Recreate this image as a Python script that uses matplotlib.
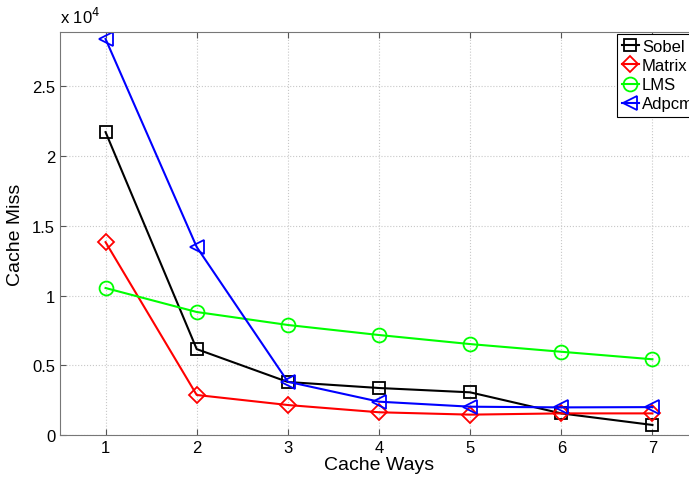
import numpy as np
import matplotlib
matplotlib.use("Agg")
import matplotlib.pyplot as plt
from matplotlib.ticker import FormatStrFormatter

plt.rcParams['font.family'] = ['Liberation Sans', 'DejaVu Sans']

ways = [1, 2, 3, 4, 5, 6, 7]
sobel = [21720, 6160, 3800, 3370, 3060, 1550, 720]
matrix = [13830, 2870, 2150, 1630, 1460, 1550, 1550]
lms = [10540, 8820, 7890, 7170, 6520, 5970, 5430]
adpcm = [28400, 13480, 3820, 2390, 2030, 1980, 2000]

series = [
    ("Sobel", sobel, "black", "s", 9),
    ("Matrix", matrix, "red", "D", 8),
    ("LMS", lms, "#00ff00", "o", 10),
    ("Adpcm", adpcm, "blue", "<", 10),
]

fig = plt.figure(figsize=(6.89, 4.81), dpi=100)
ax = fig.add_axes([60 / 689, 45 / 481, 638 / 689, 403 / 481])

for name, vals, color, marker, ms in series:
    ax.plot(ways, np.array(vals) / 1e4, color=color, marker=marker,
            markersize=ms, markerfacecolor="none", markeredgewidth=1.3,
            linewidth=1.5, label=name)

ax.set_xlim(0.5, 7.5)
ax.set_ylim(0, 2.89)
ax.set_xticks(ways)
ax.set_yticks([0, 0.5, 1, 1.5, 2, 2.5])
ax.yaxis.set_major_formatter(FormatStrFormatter("%g"))
ax.tick_params(direction="in", top=True, right=True, labelsize=12, length=4,
               color="#555555")
for s in ax.spines.values():
    s.set_color("#777777")
ax.grid(True, linestyle=":", color="#c8c8c8", linewidth=0.8)

ax.set_xlabel("Cache Ways", fontsize=14, labelpad=1)
ax.set_ylabel("Cache Miss", fontsize=14, labelpad=6)
fig.text(60 / 689, 1 - 27 / 481, "x 10$^4$", fontsize=12, ha="left",
         va="bottom")

leg = ax.legend(loc="upper left", bbox_to_anchor=(617 / 689, 1 - 35 / 481),
                bbox_transform=fig.transFigure, fontsize=12, handlelength=1.0,
                handletextpad=0.2, borderpad=0.3, labelspacing=0.25,
                fancybox=False, framealpha=1, edgecolor="black",
                borderaxespad=0)
leg.get_frame().set_linewidth(0.8)

fig.savefig("out.png", dpi=100)
